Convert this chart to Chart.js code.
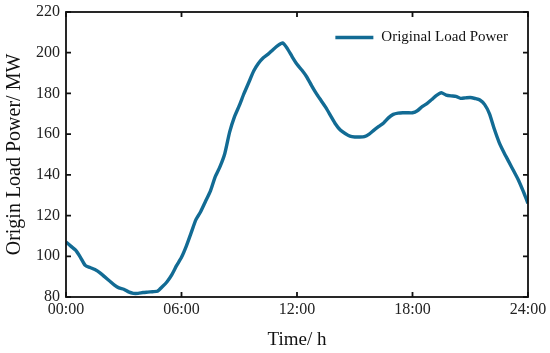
<!DOCTYPE html>
<html>
<head>
<meta charset="utf-8">
<script src="https://cdn.jsdelivr.net/npm/chart.js@4.4.0/dist/chart.umd.min.js"></script>
<style>
  html, body { margin: 0; padding: 0; background: #fff; }
</style>
</head>
<body>
<canvas class="chart" width="550" height="353"></canvas>
<script>
// load, one value every 15 minutes from 00:00 to 24:00
const loadPower = [
  107, 105, 103, 99.5, 95.5, 94.5, 93.5, 92, 90, 88, 86, 84.5,
  83.8, 82.5, 81.8, 81.8, 82.2, 82.4, 82.6, 82.8, 85, 87.5, 91, 95.5,
  99.5, 105, 111.5, 118, 122, 127, 132, 139, 144, 150.5, 161, 168.5,
  174, 180, 185.5, 191, 194.8, 197.5, 199.3, 201.5, 203.5, 204.8, 202, 198,
  194.3, 191.5, 188.2, 184, 180, 176.5, 173, 169, 165, 162, 160.3, 159,
  158.6, 158.6, 158.8, 160, 162, 163.8, 165.5, 168, 169.7, 170.3, 170.5, 170.5,
  170.5, 171.5, 173.5, 175, 177, 179, 180.3, 179.2, 178.8, 178.6, 177.6, 177.8,
  178, 177.5, 176.8, 174.5, 170, 162.5, 156, 151, 146.5, 142, 137.5, 132,
  126
];
const times = loadPower.map((_, i) => i * 0.25);   // hours
const xTickLabels = ['00:00', '06:00', '12:00', '18:00', '24:00'];
const seriesName = 'Original Load Power';

const lineColor = '#126b94';
const serif = "'Liberation Serif', 'Times New Roman', serif";

// frame + inward tick marks on all four sides
const frameTicks = {
  id: 'frameTicks',
  afterDraw(chart) {
    const {ctx, chartArea: {top, bottom, left, right}, scales: {x, y}} = chart;
    const len = 5;
    ctx.save();
    ctx.strokeStyle = '#111';
    ctx.lineWidth = 1.8;
    ctx.strokeRect(left, top, right - left, bottom - top);
    ctx.beginPath();
    x.ticks.forEach(t => {
      const px = x.getPixelForValue(t.value);
      ctx.moveTo(px, bottom); ctx.lineTo(px, bottom - len);
      ctx.moveTo(px, top); ctx.lineTo(px, top + len);
    });
    y.ticks.forEach(t => {
      const py = y.getPixelForValue(t.value);
      ctx.moveTo(left, py); ctx.lineTo(left + len, py);
      ctx.moveTo(right, py); ctx.lineTo(right - len, py);
    });
    ctx.stroke();
    ctx.restore();
  }
};

// legend inside the plot, top right
const insideLegend = {
  id: 'insideLegend',
  afterDraw(chart) {
    const {ctx, chartArea: {top, right}} = chart;
    const ds = chart.data.datasets[0];
    ctx.save();
    ctx.font = '15px ' + serif;
    const tw = ctx.measureText(ds.label).width;
    const textX = right - 20 - tw;
    const cy = top + 25.5;
    ctx.strokeStyle = ds.borderColor;
    ctx.lineWidth = ds.borderWidth;
    ctx.beginPath();
    ctx.moveTo(textX - 46, cy);
    ctx.lineTo(textX - 8, cy);
    ctx.stroke();
    ctx.fillStyle = '#111';
    ctx.textBaseline = 'middle';
    ctx.fillText(ds.label, textX, cy);
    ctx.restore();
  }
};

const data = {
  datasets: [{
    label: seriesName,
    data: times.map((t, i) => ({x: t, y: loadPower[i]})),
    borderColor: lineColor,
    backgroundColor: lineColor,
    borderWidth: 3.4,
    pointRadius: 0,
    tension: 0.2,
    fill: false
  }]
};

const config = {
  type: 'line',
  data,
  options: {
    responsive: false,
    animation: false,
    layout: { padding: { top: 12, right: 22, left: 0, bottom: 0 } },
    plugins: {
      legend: { display: false },
      tooltip: { enabled: false }
    },
    scales: {
      x: {
        type: 'linear',
        min: 0,
        max: 24,
        ticks: {
          stepSize: 6,
          maxRotation: 0,
          padding: 3,
          color: '#222',
          font: { family: serif, size: 16 },
          callback: v => xTickLabels[v / 6]
        },
        grid: { display: false, drawTicks: false },
        border: { display: false },
        title: {
          display: true,
          text: 'Time/ h',
          color: '#111',
          font: { family: serif, size: 19 },
          padding: { top: 0, bottom: 2 }
        },
        afterFit(scale) {
          scale.height = 56;
          scale.paddingLeft = 0;
          scale.paddingRight = 0;
        }
      },
      y: {
        min: 80,
        max: 220,
        ticks: {
          stepSize: 20,
          padding: 6,
          color: '#222',
          font: { family: serif, size: 16 }
        },
        grid: { display: false, drawTicks: false },
        border: { display: false },
        title: {
          display: true,
          text: 'Origin Load Power/ MW',
          color: '#111',
          font: { family: serif, size: 20 },
          padding: { top: 3, bottom: 0 }
        },
        afterFit(scale) {
          scale.width = 66;
          scale.paddingTop = 0;
          scale.paddingBottom = 0;
        }
      }
    }
  },
  plugins: [frameTicks, insideLegend]
};

const myChart = new Chart(document.querySelector('.chart'), config);
</script>
</body>
</html>
